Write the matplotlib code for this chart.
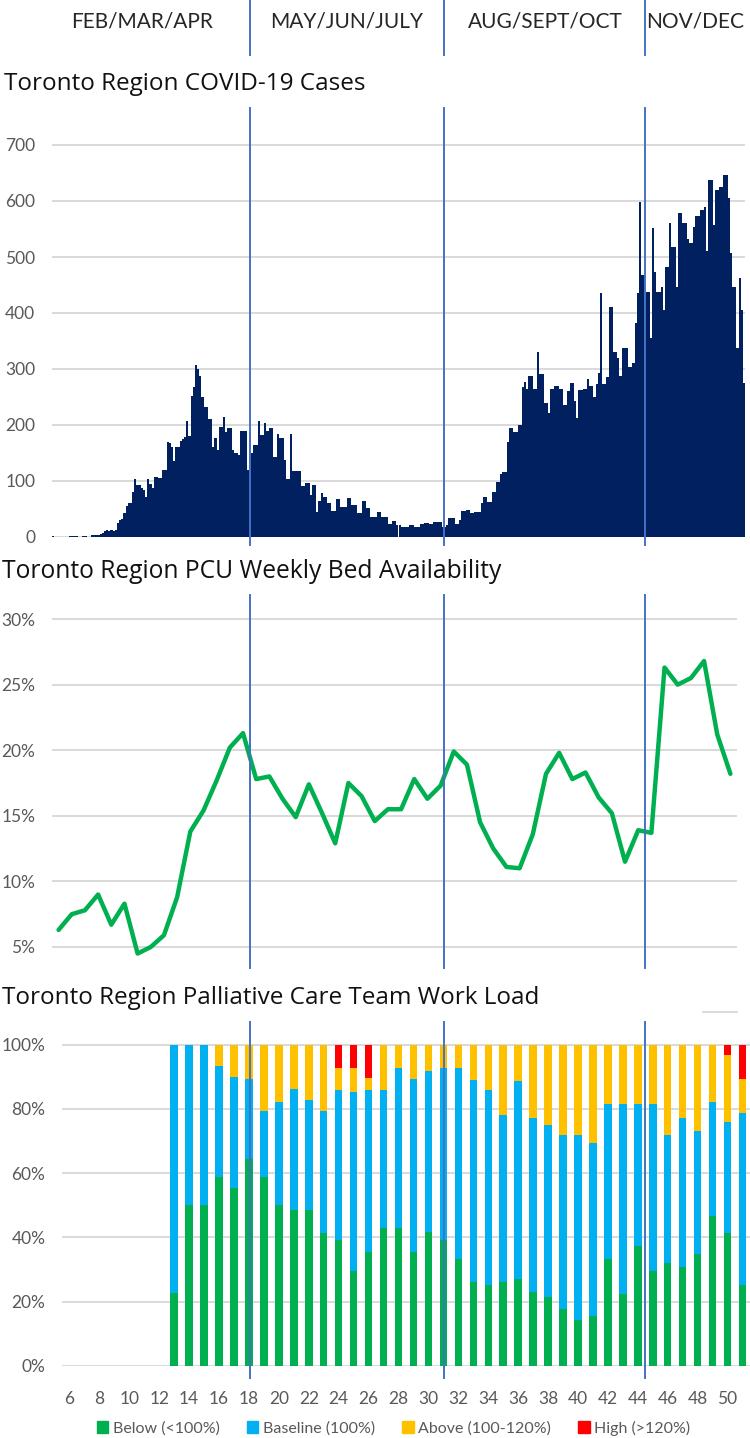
import matplotlib
matplotlib.use("Agg")
import matplotlib.pyplot as plt
from matplotlib.lines import Line2D
from matplotlib.patches import Patch

W, H = 750, 1438  # figure size in pixels

# Daily COVID-19 cases, Toronto region
cases = [
    2, 0, 0, 0, 0, 0, 0, 0, 2, 2,
    2, 2, 0, 0, 2, 2, 0, 0, 3, 3,
    4, 4, 6, 8, 10, 12, 11, 12, 10, 12,
    25, 30, 32, 42, 55, 60, 60, 80, 103, 92,
    93, 88, 84, 71, 103, 95, 87, 108, 108, 106,
    106, 119, 119, 170, 168, 160, 136, 160, 160, 171,
    175, 179, 207, 181, 252, 268, 307, 300, 287, 250,
    233, 233, 211, 211, 160, 177, 155, 196, 196, 214,
    187, 195, 195, 155, 150, 150, 146, 190, 190, 190,
    119, 188, 150, 164, 164, 207, 183, 183, 204, 190,
    194, 194, 143, 143, 184, 177, 177, 137, 103, 103,
    184, 118, 118, 118, 118, 91, 91, 96, 96, 75,
    93, 93, 45, 65, 79, 72, 72, 61, 61, 46,
    46, 67, 67, 54, 54, 54, 70, 70, 57, 57,
    57, 42, 42, 64, 64, 51, 51, 36, 36, 36,
    45, 45, 36, 36, 36, 24, 24, 29, 29, 21,
    21, 18, 18, 18, 18, 21, 21, 18, 18, 18,
    24, 24, 25, 25, 23, 23, 27, 27, 27, 27,
    18, 18, 21, 34, 34, 34, 24, 24, 30, 46,
    46, 48, 48, 43, 43, 45, 45, 45, 60, 72,
    72, 63, 63, 80, 80, 98, 98, 112, 116, 116,
    170, 194, 194, 188, 188, 200, 200, 268, 277, 264,
    288, 288, 265, 265, 330, 291, 291, 239, 239, 221,
    264, 264, 270, 270, 264, 264, 236, 236, 260, 275,
    275, 243, 213, 262, 262, 264, 264, 282, 270, 270,
    250, 273, 292, 435, 273, 273, 285, 411, 411, 330,
    330, 320, 287, 337, 337, 337, 304, 304, 310, 382,
    435, 598, 468, 468, 437, 437, 355, 552, 473, 437,
    437, 446, 405, 482, 482, 561, 518, 518, 446, 579,
    579, 560, 560, 532, 525, 525, 554, 573, 573, 584,
    584, 590, 510, 637, 637, 557, 620, 620, 625, 625,
    646, 646, 605, 507, 446, 446, 337, 462, 405, 275,
]

# Weekly PCU bed availability (%)
bed_avail = [
    6.3, 7.5, 7.8, 9.0, 6.7, 8.3, 4.5, 5.0, 5.9, 8.8,
    13.8, 15.4, 17.7, 20.2, 21.3, 17.8, 18.0, 16.3, 14.9, 17.4,
    15.2, 12.9, 17.5, 16.5, 14.6, 15.5, 15.5, 17.8, 16.3, 17.3,
    19.9, 18.9, 14.5, 12.5, 11.1, 11.0, 13.6, 18.2, 19.8, 17.8,
    18.3, 16.4, 15.2, 11.5, 13.9, 13.7, 26.3, 25.0, 25.5, 26.8,
    21.2, 18.2,
]

# Palliative care team work load by week (% of teams)
weeks = list(range(13, 52))
below = [22.6, 50.2, 50.2, 58.7, 55.3, 64.4, 58.7, 50.2, 48.4, 48.4,
         41.3, 39.3, 29.6, 35.6, 42.9, 42.9, 35.6, 41.6, 39.3, 33.2,
         26.0, 25.1, 26.0, 27.0, 23.1, 21.5, 17.8, 14.2, 15.6, 33.2,
         22.5, 37.2, 29.6, 32.0, 30.9, 34.9, 46.7, 41.3, 25.1]
baseline = [77.4, 49.8, 49.8, 34.6, 34.6, 25.0, 20.7, 32.0, 37.9, 34.5,
            38.1, 46.7, 55.8, 50.4, 43.1, 49.9, 53.8, 50.3, 53.5, 59.6,
            62.9, 60.9, 52.0, 61.8, 54.1, 53.5, 54.0, 57.6, 53.7, 48.4,
            59.1, 44.4, 52.0, 40.0, 46.3, 38.3, 35.5, 34.5, 53.5]
above = [0, 0, 0, 6.7, 10.1, 10.6, 20.6, 17.8, 13.7, 17.1,
         20.6, 6.8, 7.4, 3.5, 14.0, 7.2, 10.6, 8.1, 7.2, 7.2,
         11.1, 14.0, 22.0, 11.2, 22.8, 25.0, 28.2, 28.2, 30.7, 18.4,
         18.4, 18.4, 18.4, 28.0, 22.8, 26.8, 17.8, 21.0, 10.8]
high = [0, 0, 0, 0, 0, 0, 0, 0, 0, 0,
        0, 7.2, 7.2, 10.5, 0, 0, 0, 0, 0, 0,
        0, 0, 0, 0, 0, 0, 0, 0, 0, 0,
        0, 0, 0, 0, 0, 0, 0, 3.2, 10.6]
week_ticks = list(range(6, 51, 2))

quarters = ["FEB/MAR/APR", "MAY/JUN/JULY", "AUG/SEPT/OCT", "NOV/DEC"]
quarter_x = [142, 347, 545, 695]
legend_labels = ["Below (<100%)", "Baseline (100%)", "Above (100-120%)", "High (>120%)"]
colors = ["#00B050", "#00B0F0", "#FFC000", "#FF0000"]

GRID = "#D9D9D9"
TICK = "#595959"
LINE_BLUE = "#4472C4"
TITLE_FONT = ["Open Sans", "DejaVu Sans"]
TICK_FONT = ["Lato", "DejaVu Sans"]


def px_axes(fig, x0, y0, x1, y1):
    # axes placed by pixel box (top-left origin)
    return fig.add_axes([x0 / W, 1 - y1 / H, (x1 - x0) / W, (y1 - y0) / H])


def style(ax):
    for s in ax.spines.values():
        s.set_visible(False)
    ax.tick_params(length=0, colors=TICK, labelsize=12.5)
    for lab in ax.get_yticklabels() + ax.get_xticklabels():
        lab.set_family(TICK_FONT)
    ax.set_axisbelow(True)


fig = plt.figure(figsize=(W / 100, H / 100), dpi=100)

# header
for q, x in zip(quarters, quarter_x):
    fig.text(x / W, 1 - 22 / H, q, ha="center", va="center", fontsize=15,
             family=TICK_FONT, color="#262626")

# --- chart 1: daily cases
fig.text(4 / W, 1 - 84 / H, "Toronto Region COVID-19 Cases", ha="left", va="center",
         fontsize=17.5, family=TITLE_FONT, color="#111111")
ax1 = px_axes(fig, 52, 111.4, 745, 537)
ax1.bar(range(len(cases)), cases, width=1.0, color="#002060", linewidth=0)
ax1.set_xlim(-0.5, len(cases) - 0.5)
ax1.set_ylim(0, 760)
ax1.set_yticks(range(0, 701, 100))
ax1.set_xticks([])
ax1.yaxis.grid(True, color=GRID, linewidth=1.4)
ax1.tick_params(axis="y", pad=12)
style(ax1)

# --- chart 2: bed availability
fig.text(2 / W, 1 - 571 / H, "Toronto Region PCU Weekly Bed Availability", ha="left",
         va="center", fontsize=17.7, family=TITLE_FONT, color="#111111")
ax2 = px_axes(fig, 52, 592.8, 737, 960.1)
ax2.plot(range(len(bed_avail)), bed_avail, color="#00B050", linewidth=3.2,
         solid_joinstyle="round", solid_capstyle="round")
ax2.set_xlim(-0.5, len(bed_avail) - 0.5)
ax2.set_ylim(4, 32)
ax2.set_yticks(range(5, 31, 5))
ax2.set_yticklabels([f"{v}%" for v in range(5, 31, 5)])
ax2.set_xticks([])
ax2.yaxis.grid(True, color=GRID, linewidth=1.4)
ax2.tick_params(axis="y", pad=12)
style(ax2)

# --- chart 3: work load
fig.text(2 / W, 1 - 998 / H, "Toronto Region Palliative Care Team Work Load", ha="left",
         va="center", fontsize=17.5, family=TITLE_FONT, color="#111111")
ax3 = px_axes(fig, 62, 1019, 750, 1366)
bottom = [0.0] * len(weeks)
for vals, c in zip([below, baseline, above, high], colors):
    ax3.bar(weeks, vals, bottom=bottom, width=0.5, color=c, linewidth=0)
    bottom = [b + v for b, v in zip(bottom, vals)]
ax3.set_xlim(5.5, 51.5)
ax3.set_ylim(0, 108)
ax3.set_yticks(range(0, 101, 20))
ax3.set_yticklabels([f"{v}%" for v in range(0, 101, 20)])
ax3.set_xticks(week_ticks)
ax3.yaxis.grid(True, color=GRID, linewidth=1.4)
ax3.tick_params(axis="y", pad=12)
ax3.tick_params(axis="x", pad=18)
style(ax3)

# stray gridline fragment at top right of chart 3
fig.add_artist(Line2D([703 / W, 737 / W], [1 - 1012 / H, 1 - 1012 / H],
                      color=GRID, linewidth=1.4, transform=fig.transFigure))

# quarter separators
for x in [250, 444, 645]:
    for y0, y1 in [(0, 55), (108, 545), (595, 968), (1022, 1378)]:
        fig.add_artist(Line2D([x / W, x / W], [1 - y0 / H, 1 - y1 / H], color=LINE_BLUE,
                              linewidth=1.4, transform=fig.transFigure, zorder=10))

handles = [Patch(color=c, label=l) for c, l in zip(colors, legend_labels)]
fig.legend(handles=handles, loc="center", bbox_to_anchor=(0.525, 1 - 1428 / H), ncol=4,
           frameon=False, handlelength=0.7, handleheight=0.7, handletextpad=0.3,
           columnspacing=1.7, prop={"family": TICK_FONT, "size": 11.5}, labelcolor=TICK)

fig.savefig("out.png", dpi=100)
